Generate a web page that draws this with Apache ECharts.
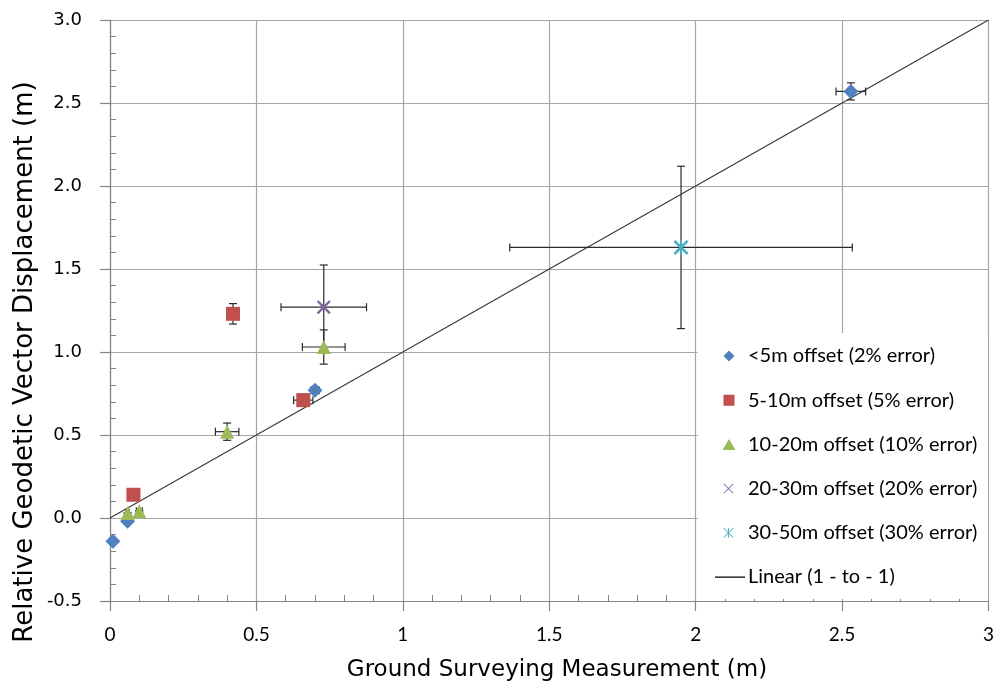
<!DOCTYPE html>
<html>
<head>
<meta charset="utf-8">
<script src="https://cdn.jsdelivr.net/npm/echarts@6/dist/echarts.min.js"></script>
<style>
html,body{margin:0;padding:0;background:#fff;}
#chart{width:997px;height:686px;}
</style>
</head>
<body>
<div id="chart"></div>
<script>
// ---- data ----
const seriesNames = [
  '<5m offset (2% error)',
  '5-10m offset (5% error)',
  '10-20m offset (10% error)',
  '20-30m offset (20% error)',
  '30-50m offset (30% error)'
];
const lineName = 'Linear (1 - to - 1)';
const xTitle = 'Ground Surveying Measurement (m)';
const yTitle = 'Relative Geodetic Vector Displacement (m)';

const blueX = [0.01, 0.06, 0.70, 2.53];
const blueY = [-0.14, -0.02, 0.77, 2.57];
const redX = [0.08, 0.42, 0.66];
const redY = [0.14, 1.23, 0.71];
const greenX = [0.06, 0.10, 0.40, 0.73];
const greenY = [0.03, 0.04, 0.52, 1.03];
const purpleX = [0.73];
const purpleY = [1.27];
const cyanX = [1.95];
const cyanY = [1.63];
const errorPct = [0.02, 0.05, 0.10, 0.20, 0.30];

const lineX = [0, 3];
const lineY = [0, 3];

const xTicks = [0, 0.5, 1, 1.5, 2, 2.5, 3];
const yTicks = [-0.5, 0, 0.5, 1.0, 1.5, 2.0, 2.5, 3.0];

// ---- styling ----
const colors = ['#4F81BD', '#C0504D', '#9BBB59', '#8064A2', '#4BACC6'];

function xPoly(x0, y0, s, d) {
  const x1 = x0 + s, y1 = y0 + s, cx = x0 + s / 2, cy = y0 + s / 2;
  return 'M' + x0 + ',' + (y0 + d) + 'L' + (x0 + d) + ',' + y0 + 'L' + cx + ',' + (cy - d) +
    'L' + (x1 - d) + ',' + y0 + 'L' + x1 + ',' + (y0 + d) + 'L' + (cx + d) + ',' + cy +
    'L' + x1 + ',' + (y1 - d) + 'L' + (x1 - d) + ',' + y1 + 'L' + cx + ',' + (cy + d) +
    'L' + (x0 + d) + ',' + y1 + 'L' + x0 + ',' + (y1 - d) + 'L' + (cx - d) + ',' + cy + 'Z';
}
function vBar(x0, y0, s, w) {
  const cx = x0 + s / 2;
  return 'M' + (cx - w) + ',' + y0 + 'L' + (cx + w) + ',' + y0 + 'L' + (cx + w) + ',' + (y0 + s) + 'L' + (cx - w) + ',' + (y0 + s) + 'Z';
}
// plot markers
const xSym = 'path://' + xPoly(0, 0, 10, 1.2);
const starSym = 'path://' + xPoly(0, 0, 10, 1.2) + vBar(0, 0, 10, 0.6);
const symbols = ['diamond', 'rect', 'triangle', xSym, starSym];
const symbolSizes = [15, 14, 14, 14, 15];

// legend icons drawn inside a 30 x 11 frame (corner specks keep the frame size)
const frame = 'M0,0L0.01,0L0,0.01Z M30,11L29.99,11L30,10.99Z';
const legendIcons = [
  'path://M14,0L19.5,5.5L14,11L8.5,5.5Z' + frame,
  'path://M8.5,0L19.5,0L19.5,11L8.5,11Z' + frame,
  'path://M14,0L20.5,11L7.5,11Z' + frame,
  'path://' + xPoly(8.5, 0.5, 10, 0.6) + frame,
  'path://' + xPoly(8.5, 0.5, 10, 0.6) + vBar(8.5, 0.5, 10, 0.45) + frame
];
const lineIcon = 'path://M0,5L30,5L30,6.2L0,6.2Z' + frame;

const groupsX = [blueX, redX, greenX, purpleX, cyanX];
const groupsY = [blueY, redY, greenY, purpleY, cyanY];

function pairs(xs, ys) { return xs.map((x, i) => [x, ys[i]]); }

function renderErr(params, api) {
  const x = api.value(0), y = api.value(1), ex = api.value(2), ey = api.value(3);
  const l = api.coord([x - ex, y]);
  const r = api.coord([x + ex, y]);
  const t = api.coord([x, y + ey]);
  const b = api.coord([x, y - ey]);
  const c = api.coord([x, y]);
  const cap = 4;
  const style = { stroke: '#2b2b2b', lineWidth: 1.2, fill: null };
  const mk = (x1, y1, x2, y2) => ({ type: 'line', shape: { x1, y1, x2, y2 }, style });
  return {
    type: 'group',
    children: [
      mk(l[0], c[1], r[0], c[1]),
      mk(l[0], c[1] - cap, l[0], c[1] + cap),
      mk(r[0], c[1] - cap, r[0], c[1] + cap),
      mk(c[0], t[1], c[0], b[1]),
      mk(c[0] - cap, t[1], c[0] + cap, t[1]),
      mk(c[0] - cap, b[1], c[0] + cap, b[1])
    ]
  };
}

const series = [];
groupsX.forEach((xs, g) => {
  series.push({
    type: 'custom',
    name: 'err' + g,
    renderItem: renderErr,
    data: xs.map((x, i) => [x, groupsY[g][i], Math.abs(x) * errorPct[g], Math.abs(groupsY[g][i]) * errorPct[g]]),
    z: 3,
    silent: true
  });
});
series.push({
  type: 'line',
  name: lineName,
  data: pairs(lineX, lineY),
  showSymbol: false,
  symbol: 'none',
  lineStyle: { color: '#3a3a3a', width: 1.2 },
  itemStyle: { color: '#000' },
  z: 2,
  silent: true
});
groupsX.forEach((xs, g) => {
  series.push({
    type: 'scatter',
    name: seriesNames[g],
    data: pairs(xs, groupsY[g]),
    symbol: symbols[g],
    symbolSize: symbolSizes[g],
    itemStyle: { color: colors[g], opacity: 1 },
    z: 5
  });
});

const axisLineColor = '#868686';
const gridColor = '#a5a5a5';

const option = {
  animation: false,
  backgroundColor: '#fff',
  grid: { left: 110, top: 20, width: 879, height: 581, containLabel: false },
  xAxis: {
    type: 'value',
    min: xTicks[0], max: xTicks[xTicks.length - 1], interval: 0.5,
    axisLine: { show: true, onZero: false, lineStyle: { color: axisLineColor, width: 1.2 } },
    axisTick: { show: true, length: 10, lineStyle: { color: axisLineColor, width: 1.2 } },
    minorTick: { show: true, splitNumber: 5, length: -6, lineStyle: { color: axisLineColor, width: 1 } },
    axisLabel: { fontFamily: 'Lato', fontSize: 19, color: '#000', margin: 24 },
    splitLine: { show: true, lineStyle: { color: gridColor, width: 1.2 } }
  },
  yAxis: {
    type: 'value',
    min: yTicks[0], max: yTicks[yTicks.length - 1], interval: 0.5,
    axisLine: { show: true, onZero: false, lineStyle: { color: axisLineColor, width: 1.2 } },
    axisTick: { show: true, length: 10, lineStyle: { color: axisLineColor, width: 1.2 } },
    minorTick: { show: true, splitNumber: 5, length: -6, lineStyle: { color: axisLineColor, width: 1 } },
    axisLabel: { fontFamily: 'DejaVu Sans', fontSize: 18, color: '#000', margin: 28, formatter: v => v.toFixed(1) },
    splitLine: { show: true, lineStyle: { color: gridColor, width: 1.2 } }
  },
  graphic: [
    {
      type: 'rect', z: 1, silent: true,
      shape: { x: 697.5, y: 333, width: 290.5, height: 266 },
      style: { fill: '#fff' }
    },
    {
      type: 'text', z: 10, silent: true,
      x: 557, y: 670,
      style: { text: xTitle, fontFamily: 'DejaVu Sans', fontSize: 23, fill: '#000', align: 'center', verticalAlign: 'middle' }
    },
    {
      type: 'text', z: 10, silent: true,
      x: 25, y: 362, rotation: Math.PI / 2,
      style: { text: yTitle, fontFamily: 'DejaVu Sans', fontSize: 26, fill: '#000', align: 'center', verticalAlign: 'middle' }
    }
  ],
  legend: {
    orient: 'vertical',
    left: 715, top: 346,
    padding: 0,
    itemWidth: 30, itemHeight: 11,
    itemGap: 24.2,
    selectedMode: false,
    textStyle: { fontFamily: 'Lato', fontSize: 20, color: '#000', lineHeight: 20, padding: [0, 0, 0, -2] },
    data: [
      { name: seriesNames[0], icon: legendIcons[0] },
      { name: seriesNames[1], icon: legendIcons[1] },
      { name: seriesNames[2], icon: legendIcons[2] },
      { name: seriesNames[3], icon: legendIcons[3] },
      { name: seriesNames[4], icon: legendIcons[4] },
      { name: lineName, icon: lineIcon, itemStyle: { color: '#000' } }
    ],
    z: 6
  },
  series: series
};

const chart = echarts.init(document.getElementById('chart'), null, { renderer: 'canvas' });
chart.setOption(option);
</script>
</body>
</html>
